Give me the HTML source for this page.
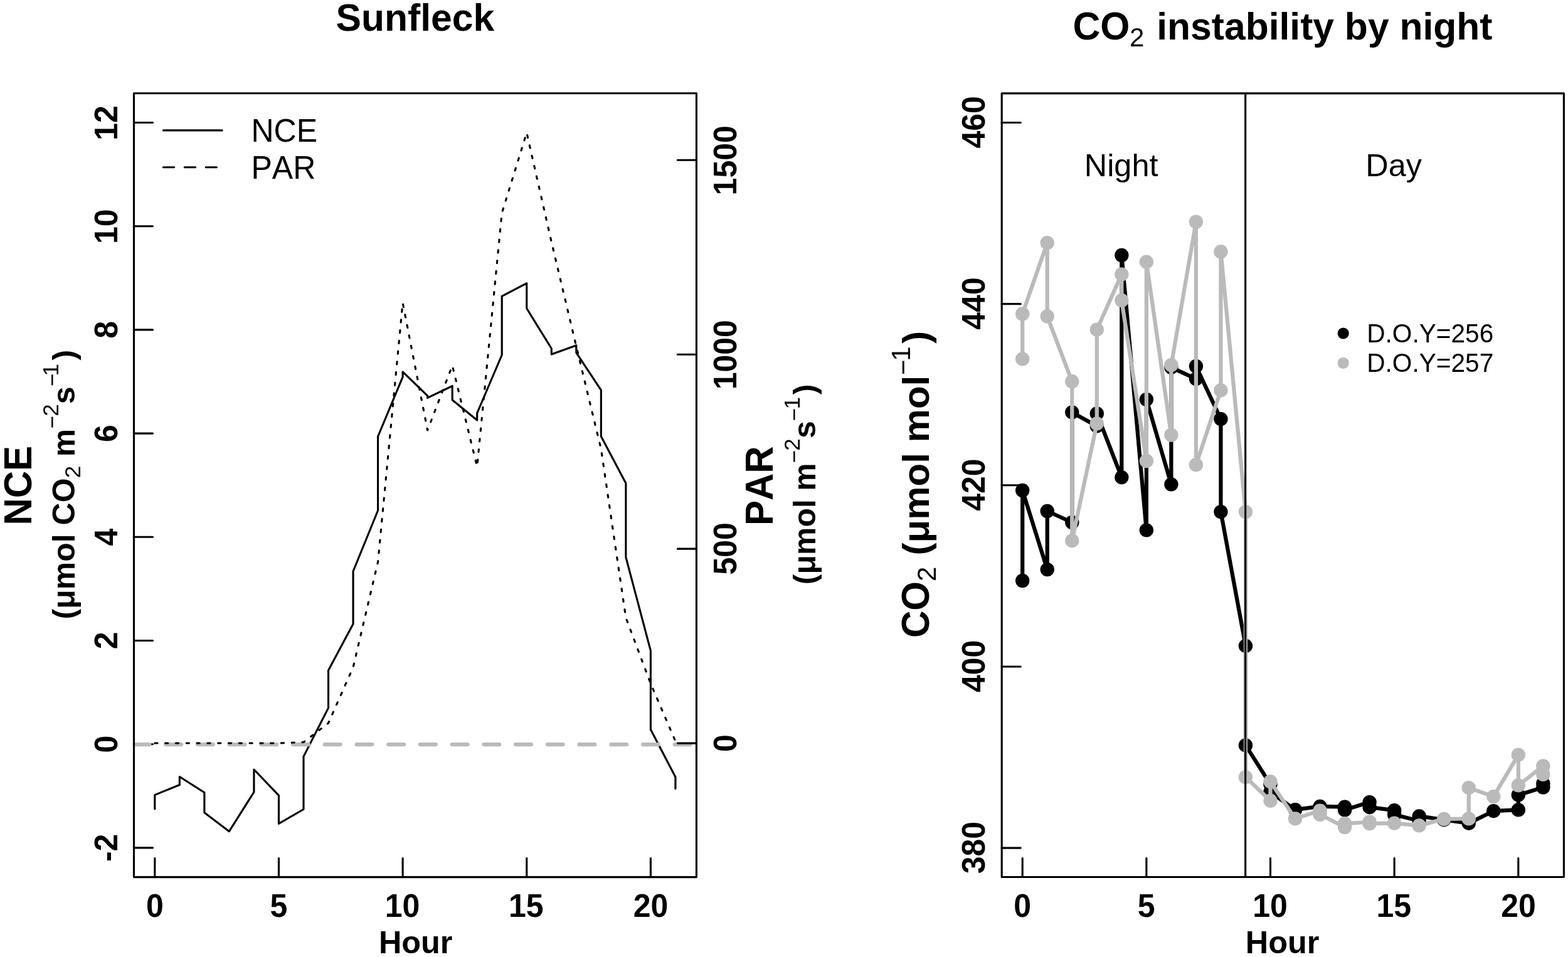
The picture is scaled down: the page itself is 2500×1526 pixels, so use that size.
<!DOCTYPE html>
<html><head><meta charset="utf-8"><title>Sunfleck and CO2 instability by night</title>
<style>
html,body{margin:0;padding:0;background:#fff;}
svg{display:block;font-family:'Liberation Sans',Arial,Helvetica,sans-serif;font-kerning:none;}
text{font-kerning:none;}
</style></head>
<body>
<svg width="2500" height="1526" viewBox="0 0 2500 1526" stroke-linecap="round" stroke-linejoin="round">
<rect width="2500" height="1526" fill="#fff"/>
<polyline points="246.8,1290 246.8,1267.6 286.33,1251.5 286.33,1238.5 325.86,1263.7 325.86,1295.8 365.39,1325.7 404.92,1263 404.92,1227 444.45,1268.3 444.45,1313.4 483.98,1290.5 483.98,1206.4 523.51,1128.9 523.51,1068.9 563.04,994.9 563.04,911 602.57,814 602.57,696 642.1,601.2 642.1,592.9 681.63,631.1 681.63,634.4 721.16,615.5 721.16,637.7 760.69,670 760.69,658.7 800.22,566 800.22,472.3 839.75,451.6 839.75,491.8 879.28,555.7 879.28,565 918.81,550.7 918.81,562.3 958.34,622.2 958.34,695.8 997.87,770.6 997.87,888.5 1037.4,1037.7 1037.4,1163.2 1076.93,1239 1076.93,1257.6" fill="none" stroke="#000" stroke-width="3.125" />
<rect x="213.5" y="148.7" width="896.9" height="1249.9" fill="none" stroke="#000" stroke-width="3.125"/>
<line x1="246.8" y1="1398.6" x2="246.8" y2="1368.6" stroke="#000" stroke-width="3.125" />
<text transform="translate(232.93 1462.3) scale(1 1.045)" font-size="50" font-weight="bold" fill="#000">0</text>
<line x1="444.45" y1="1398.6" x2="444.45" y2="1368.6" stroke="#000" stroke-width="3.125" />
<text transform="translate(430.47 1462.3) scale(1 1.045)" font-size="50" font-weight="bold" fill="#000">5</text>
<line x1="642.1" y1="1398.6" x2="642.1" y2="1368.6" stroke="#000" stroke-width="3.125" />
<text transform="translate(613.74 1462.3) scale(1 1.045)" font-size="50" font-weight="bold" fill="#000">10</text>
<line x1="839.75" y1="1398.6" x2="839.75" y2="1368.6" stroke="#000" stroke-width="3.125" />
<text transform="translate(811.06 1462.3) scale(1 1.045)" font-size="50" font-weight="bold" fill="#000">15</text>
<line x1="1037.4" y1="1398.6" x2="1037.4" y2="1368.6" stroke="#000" stroke-width="3.125" />
<text transform="translate(1009.75 1462.3) scale(1 1.045)" font-size="50" font-weight="bold" fill="#000">20</text>
<line x1="213.5" y1="1351.9" x2="243.5" y2="1351.9" stroke="#000" stroke-width="3.125" />
<text transform="translate(186.8 1374.1) rotate(-90) scale(1 1.045)" font-size="50" font-weight="bold">-2</text>
<line x1="213.5" y1="1186.7" x2="243.5" y2="1186.7" stroke="#000" stroke-width="3.125" />
<text transform="translate(186.8 1200.57) rotate(-90) scale(1 1.045)" font-size="50" font-weight="bold">0</text>
<line x1="213.5" y1="1021.5" x2="243.5" y2="1021.5" stroke="#000" stroke-width="3.125" />
<text transform="translate(186.8 1035.27) rotate(-90) scale(1 1.045)" font-size="50" font-weight="bold">2</text>
<line x1="213.5" y1="856.3" x2="243.5" y2="856.3" stroke="#000" stroke-width="3.125" />
<text transform="translate(186.8 870.45) rotate(-90) scale(1 1.045)" font-size="50" font-weight="bold">4</text>
<line x1="213.5" y1="691.1" x2="243.5" y2="691.1" stroke="#000" stroke-width="3.125" />
<text transform="translate(186.8 705.02) rotate(-90) scale(1 1.045)" font-size="50" font-weight="bold">6</text>
<line x1="213.5" y1="525.9" x2="243.5" y2="525.9" stroke="#000" stroke-width="3.125" />
<text transform="translate(186.8 539.83) rotate(-90) scale(1 1.045)" font-size="50" font-weight="bold">8</text>
<line x1="213.5" y1="360.7" x2="243.5" y2="360.7" stroke="#000" stroke-width="3.125" />
<text transform="translate(186.8 389.06) rotate(-90) scale(1 1.045)" font-size="50" font-weight="bold">10</text>
<line x1="213.5" y1="195.5" x2="243.5" y2="195.5" stroke="#000" stroke-width="3.125" />
<text transform="translate(186.8 223.88) rotate(-90) scale(1 1.045)" font-size="50" font-weight="bold">12</text>
<svg x="215.1" y="150.3" width="893.7" height="1246.7" viewBox="215.1 150.3 893.7 1246.7" overflow="hidden">
<line x1="213.5" y1="1187" x2="1110.4" y2="1187" stroke="#BABABA" stroke-width="6.25" stroke-dasharray="24.8 25.92"/>
</svg>
<polyline points="246.8,1185 286.33,1185 325.86,1185 365.39,1185 404.92,1185 444.45,1185 483.98,1183.5 523.51,1153 563.04,1064 602.57,896 642.1,483 681.63,686 721.16,583 760.69,744 800.22,339.6 839.75,211.6 879.28,386 918.81,552.3 958.34,716 997.87,985 1037.4,1090 1076.93,1182" fill="none" stroke="#000" stroke-width="3.125" stroke-dasharray="4.2 12.6"/>
<line x1="1110.4" y1="1185.1" x2="1080.4" y2="1185.1" stroke="#000" stroke-width="3.125" />
<text transform="translate(1174.2 1198.97) rotate(-90) scale(1 1.045)" font-size="50" font-weight="bold">0</text>
<line x1="1110.4" y1="875.15" x2="1080.4" y2="875.15" stroke="#000" stroke-width="3.125" />
<text transform="translate(1174.2 916.61) rotate(-90) scale(1 1.045)" font-size="50" font-weight="bold">500</text>
<line x1="1110.4" y1="565.2" x2="1080.4" y2="565.2" stroke="#000" stroke-width="3.125" />
<text transform="translate(1174.2 621.36) rotate(-90) scale(1 1.045)" font-size="50" font-weight="bold">1000</text>
<line x1="1110.4" y1="255.25" x2="1080.4" y2="255.25" stroke="#000" stroke-width="3.125" />
<text transform="translate(1174.2 311.41) rotate(-90) scale(1 1.045)" font-size="50" font-weight="bold">1500</text>
<text x="535.55" y="48.9" font-size="60.6" font-weight="bold" fill="#000">Sunfleck</text>
<text x="603.9" y="1519.7" font-size="50.4" font-weight="bold" fill="#000">Hour</text>
<text transform="translate(49.7 837.61) rotate(-90) scale(1 1.045)" font-size="60" font-weight="bold">NCE</text>
<text transform="translate(118.6 987.49) rotate(-90)" font-size="50" font-weight="bold">(μmol CO</text>
<text transform="translate(127.8 762.26) rotate(-90)" font-size="35" font-weight="normal">2</text>
<text transform="translate(118.6 728.3) rotate(-90)" font-size="50" font-weight="bold">m</text>
<text transform="translate(95.4 683.53) rotate(-90)" font-size="35" font-weight="normal">−</text>
<text transform="translate(92.5 663.86) rotate(-90)" font-size="35" font-weight="normal">2</text>
<text transform="translate(118.6 644.16) rotate(-90)" font-size="50" font-weight="bold">s</text>
<text transform="translate(95.4 616.33) rotate(-90)" font-size="35" font-weight="normal">−</text>
<text transform="translate(92.5 599.41) rotate(-90)" font-size="35" font-weight="normal">1</text>
<text transform="translate(118.6 574.45) rotate(-90)" font-size="50" font-weight="bold">)</text>
<text transform="translate(1232 838.11) rotate(-90) scale(1 1.045)" font-size="60" font-weight="bold">PAR</text>
<text transform="translate(1300.2 932.19) rotate(-90)" font-size="50" font-weight="bold">(μmol</text>
<text transform="translate(1300.2 782.8) rotate(-90)" font-size="50" font-weight="bold">m</text>
<text transform="translate(1277.9 738.53) rotate(-90)" font-size="35" font-weight="normal">−</text>
<text transform="translate(1275 718.86) rotate(-90)" font-size="35" font-weight="normal">2</text>
<text transform="translate(1300.2 699.06) rotate(-90)" font-size="50" font-weight="bold">s</text>
<text transform="translate(1277.9 671.53) rotate(-90)" font-size="35" font-weight="normal">−</text>
<text transform="translate(1275 652.41) rotate(-90)" font-size="35" font-weight="normal">1</text>
<text transform="translate(1300.2 629.15) rotate(-90)" font-size="50" font-weight="bold">)</text>
<line x1="260.4" y1="207.9" x2="354.1" y2="207.9" stroke="#000" stroke-width="3.125" />
<line x1="260.4" y1="266.8" x2="354.1" y2="266.8" stroke="#000" stroke-width="3.125" stroke-dasharray="17.2 16.7"/>
<text transform="translate(400.5 226.3) scale(1 1.045)" font-size="50" font-weight="normal" fill="#000">NCE</text>
<text transform="translate(400.5 285.1) scale(1 1.045)" font-size="50" font-weight="normal" fill="#000">PAR</text>
<polyline points="1630.2,926 1630.2,782 1669.73,908.1 1669.73,815 1709.26,833 1709.26,657.4 1748.79,679.4 1748.79,659.4 1788.32,761.2 1788.32,407 1827.85,845.4 1827.85,637 1867.38,772.3 1867.38,585.8 1906.91,604.1 1906.91,584 1946.44,668.1 1946.44,816.1 1985.97,1029.9 1985.97,1188.4 2025.5,1250.7 2025.5,1263 2065.03,1291.2 2104.56,1285.9 2144.09,1286.6 2144.09,1291.5 2183.62,1279.1 2183.62,1287.2 2223.15,1292.2 2223.15,1299 2262.68,1309 2262.68,1301.4 2302.21,1307.2 2341.74,1312.7 2381.27,1293.2 2420.8,1291.4 2420.8,1267.7 2460.33,1255.5 2460.33,1249.4" fill="none" stroke="#000" stroke-width="6.25" />
<circle cx="1630.2" cy="926" r="11.2" fill="#000"/>
<circle cx="1630.2" cy="782" r="11.2" fill="#000"/>
<circle cx="1669.73" cy="908.1" r="11.2" fill="#000"/>
<circle cx="1669.73" cy="815" r="11.2" fill="#000"/>
<circle cx="1709.26" cy="833" r="11.2" fill="#000"/>
<circle cx="1709.26" cy="657.4" r="11.2" fill="#000"/>
<circle cx="1748.79" cy="679.4" r="11.2" fill="#000"/>
<circle cx="1748.79" cy="659.4" r="11.2" fill="#000"/>
<circle cx="1788.32" cy="761.2" r="11.2" fill="#000"/>
<circle cx="1788.32" cy="407" r="11.2" fill="#000"/>
<circle cx="1827.85" cy="845.4" r="11.2" fill="#000"/>
<circle cx="1827.85" cy="637" r="11.2" fill="#000"/>
<circle cx="1867.38" cy="772.3" r="11.2" fill="#000"/>
<circle cx="1867.38" cy="585.8" r="11.2" fill="#000"/>
<circle cx="1906.91" cy="604.1" r="11.2" fill="#000"/>
<circle cx="1906.91" cy="584" r="11.2" fill="#000"/>
<circle cx="1946.44" cy="668.1" r="11.2" fill="#000"/>
<circle cx="1946.44" cy="816.1" r="11.2" fill="#000"/>
<circle cx="1985.97" cy="1029.9" r="11.2" fill="#000"/>
<circle cx="1985.97" cy="1188.4" r="11.2" fill="#000"/>
<circle cx="2025.5" cy="1250.7" r="11.2" fill="#000"/>
<circle cx="2025.5" cy="1263" r="11.2" fill="#000"/>
<circle cx="2065.03" cy="1291.2" r="11.2" fill="#000"/>
<circle cx="2104.56" cy="1285.9" r="11.2" fill="#000"/>
<circle cx="2144.09" cy="1286.6" r="11.2" fill="#000"/>
<circle cx="2144.09" cy="1291.5" r="11.2" fill="#000"/>
<circle cx="2183.62" cy="1279.1" r="11.2" fill="#000"/>
<circle cx="2183.62" cy="1287.2" r="11.2" fill="#000"/>
<circle cx="2223.15" cy="1292.2" r="11.2" fill="#000"/>
<circle cx="2223.15" cy="1299" r="11.2" fill="#000"/>
<circle cx="2262.68" cy="1309" r="11.2" fill="#000"/>
<circle cx="2262.68" cy="1301.4" r="11.2" fill="#000"/>
<circle cx="2302.21" cy="1307.2" r="11.2" fill="#000"/>
<circle cx="2341.74" cy="1312.7" r="11.2" fill="#000"/>
<circle cx="2381.27" cy="1293.2" r="11.2" fill="#000"/>
<circle cx="2420.8" cy="1291.4" r="11.2" fill="#000"/>
<circle cx="2420.8" cy="1267.7" r="11.2" fill="#000"/>
<circle cx="2460.33" cy="1255.5" r="11.2" fill="#000"/>
<circle cx="2460.33" cy="1249.4" r="11.2" fill="#000"/>
<polyline points="1630.2,572.4 1630.2,500.5 1669.73,387.1 1669.73,504.5 1709.26,608.3 1709.26,862.2 1748.79,675.4 1748.79,525.7 1788.32,437.4 1788.32,479 1827.85,735 1827.85,417.7 1867.38,693.7 1867.38,582.2 1906.91,353.8 1906.91,741.2 1946.44,622.4 1946.44,401.3 1985.97,816.1 1985.97,1239.2 2025.5,1276.8 2025.5,1246.3 2065.03,1305.4 2104.56,1292.6 2104.56,1298.8 2144.09,1319 2144.09,1313.3 2183.62,1310.6 2183.62,1313.2 2223.15,1312.7 2262.68,1316.4 2302.21,1306 2341.74,1305.4 2341.74,1256.1 2381.27,1270.1 2420.8,1203.7 2420.8,1252.4 2460.33,1221.4 2460.33,1234.8" fill="none" stroke="#BABABA" stroke-width="6.25" />
<circle cx="1630.2" cy="572.4" r="11.2" fill="#BABABA"/>
<circle cx="1630.2" cy="500.5" r="11.2" fill="#BABABA"/>
<circle cx="1669.73" cy="387.1" r="11.2" fill="#BABABA"/>
<circle cx="1669.73" cy="504.5" r="11.2" fill="#BABABA"/>
<circle cx="1709.26" cy="608.3" r="11.2" fill="#BABABA"/>
<circle cx="1709.26" cy="862.2" r="11.2" fill="#BABABA"/>
<circle cx="1748.79" cy="675.4" r="11.2" fill="#BABABA"/>
<circle cx="1748.79" cy="525.7" r="11.2" fill="#BABABA"/>
<circle cx="1788.32" cy="437.4" r="11.2" fill="#BABABA"/>
<circle cx="1788.32" cy="479" r="11.2" fill="#BABABA"/>
<circle cx="1827.85" cy="735" r="11.2" fill="#BABABA"/>
<circle cx="1827.85" cy="417.7" r="11.2" fill="#BABABA"/>
<circle cx="1867.38" cy="693.7" r="11.2" fill="#BABABA"/>
<circle cx="1867.38" cy="582.2" r="11.2" fill="#BABABA"/>
<circle cx="1906.91" cy="353.8" r="11.2" fill="#BABABA"/>
<circle cx="1906.91" cy="741.2" r="11.2" fill="#BABABA"/>
<circle cx="1946.44" cy="622.4" r="11.2" fill="#BABABA"/>
<circle cx="1946.44" cy="401.3" r="11.2" fill="#BABABA"/>
<circle cx="1985.97" cy="816.1" r="11.2" fill="#BABABA"/>
<circle cx="1985.97" cy="1239.2" r="11.2" fill="#BABABA"/>
<circle cx="2025.5" cy="1276.8" r="11.2" fill="#BABABA"/>
<circle cx="2025.5" cy="1246.3" r="11.2" fill="#BABABA"/>
<circle cx="2065.03" cy="1305.4" r="11.2" fill="#BABABA"/>
<circle cx="2104.56" cy="1292.6" r="11.2" fill="#BABABA"/>
<circle cx="2104.56" cy="1298.8" r="11.2" fill="#BABABA"/>
<circle cx="2144.09" cy="1319" r="11.2" fill="#BABABA"/>
<circle cx="2144.09" cy="1313.3" r="11.2" fill="#BABABA"/>
<circle cx="2183.62" cy="1310.6" r="11.2" fill="#BABABA"/>
<circle cx="2183.62" cy="1313.2" r="11.2" fill="#BABABA"/>
<circle cx="2223.15" cy="1312.7" r="11.2" fill="#BABABA"/>
<circle cx="2262.68" cy="1316.4" r="11.2" fill="#BABABA"/>
<circle cx="2302.21" cy="1306" r="11.2" fill="#BABABA"/>
<circle cx="2341.74" cy="1305.4" r="11.2" fill="#BABABA"/>
<circle cx="2341.74" cy="1256.1" r="11.2" fill="#BABABA"/>
<circle cx="2381.27" cy="1270.1" r="11.2" fill="#BABABA"/>
<circle cx="2420.8" cy="1203.7" r="11.2" fill="#BABABA"/>
<circle cx="2420.8" cy="1252.4" r="11.2" fill="#BABABA"/>
<circle cx="2460.33" cy="1221.4" r="11.2" fill="#BABABA"/>
<circle cx="2460.33" cy="1234.8" r="11.2" fill="#BABABA"/>
<line x1="1985.67" y1="148.9" x2="1985.67" y2="1398.5" stroke="#000" stroke-width="3.125" />
<rect x="1597.2" y="148.9" width="896.2" height="1249.6" fill="none" stroke="#000" stroke-width="3.125"/>
<line x1="1630.2" y1="1398.5" x2="1630.2" y2="1368.5" stroke="#000" stroke-width="3.125" />
<text transform="translate(1616.33 1462.3) scale(1 1.045)" font-size="50" font-weight="bold" fill="#000">0</text>
<line x1="1827.85" y1="1398.5" x2="1827.85" y2="1368.5" stroke="#000" stroke-width="3.125" />
<text transform="translate(1813.87 1462.3) scale(1 1.045)" font-size="50" font-weight="bold" fill="#000">5</text>
<line x1="2025.5" y1="1398.5" x2="2025.5" y2="1368.5" stroke="#000" stroke-width="3.125" />
<text transform="translate(1997.14 1462.3) scale(1 1.045)" font-size="50" font-weight="bold" fill="#000">10</text>
<line x1="2223.15" y1="1398.5" x2="2223.15" y2="1368.5" stroke="#000" stroke-width="3.125" />
<text transform="translate(2194.46 1462.3) scale(1 1.045)" font-size="50" font-weight="bold" fill="#000">15</text>
<line x1="2420.8" y1="1398.5" x2="2420.8" y2="1368.5" stroke="#000" stroke-width="3.125" />
<text transform="translate(2393.15 1462.3) scale(1 1.045)" font-size="50" font-weight="bold" fill="#000">20</text>
<line x1="1597.2" y1="1352.1" x2="1627.2" y2="1352.1" stroke="#000" stroke-width="3.125" />
<text transform="translate(1569.6 1393.36) rotate(-90) scale(1 1.045)" font-size="50" font-weight="bold">380</text>
<line x1="1597.2" y1="1062.95" x2="1627.2" y2="1062.95" stroke="#000" stroke-width="3.125" />
<text transform="translate(1569.6 1104.01) rotate(-90) scale(1 1.045)" font-size="50" font-weight="bold">400</text>
<line x1="1597.2" y1="773.8" x2="1627.2" y2="773.8" stroke="#000" stroke-width="3.125" />
<text transform="translate(1569.6 814.86) rotate(-90) scale(1 1.045)" font-size="50" font-weight="bold">420</text>
<line x1="1597.2" y1="484.65" x2="1627.2" y2="484.65" stroke="#000" stroke-width="3.125" />
<text transform="translate(1569.6 525.71) rotate(-90) scale(1 1.045)" font-size="50" font-weight="bold">440</text>
<line x1="1597.2" y1="195.5" x2="1627.2" y2="195.5" stroke="#000" stroke-width="3.125" />
<text transform="translate(1569.6 236.56) rotate(-90) scale(1 1.045)" font-size="50" font-weight="bold">460</text>
<text x="1985.8" y="1519.7" font-size="50.4" font-weight="bold" fill="#000">Hour</text>
<text transform="translate(1710.51 62.9) scale(1 1.035)" font-size="60.6" font-weight="bold" fill="#000">CO</text>
<text x="1800.89" y="74" font-size="42" font-weight="normal" fill="#000">2</text>
<text x="1844.23" y="62.9" font-size="60.6" font-weight="bold" fill="#000">instability by night</text>
<text x="1728.79" y="280.5" font-size="50.4" font-weight="normal" fill="#000">Night</text>
<text x="2177.27" y="280.5" font-size="50.4" font-weight="normal" fill="#000">Day</text>
<circle cx="2141.7" cy="531.5" r="9.1" fill="#000"/>
<circle cx="2141.7" cy="578.8" r="9.1" fill="#BABABA"/>
<text transform="translate(2179.27 545.8) scale(1 1.03)" font-size="40.6" font-weight="normal" fill="#000">D.O.Y=256</text>
<text transform="translate(2179.27 592.9) scale(1 1.03)" font-size="40.6" font-weight="normal" fill="#000">D.O.Y=257</text>
<text transform="translate(1481 1017.06) rotate(-90) scale(1 1.045)" font-size="60" font-weight="bold">CO</text>
<text transform="translate(1492.3 927.11) rotate(-90)" font-size="42" font-weight="normal">2</text>
<text transform="translate(1481 885.49) rotate(-90)" font-size="60" font-weight="bold">(μmol mol</text>
<text transform="translate(1454.1 598.07) rotate(-90)" font-size="42" font-weight="normal">−</text>
<text transform="translate(1450.6 575.85) rotate(-90)" font-size="42" font-weight="normal">1</text>
<text transform="translate(1481 547.66) rotate(-90)" font-size="60" font-weight="bold">)</text>
</svg>
</body></html>
